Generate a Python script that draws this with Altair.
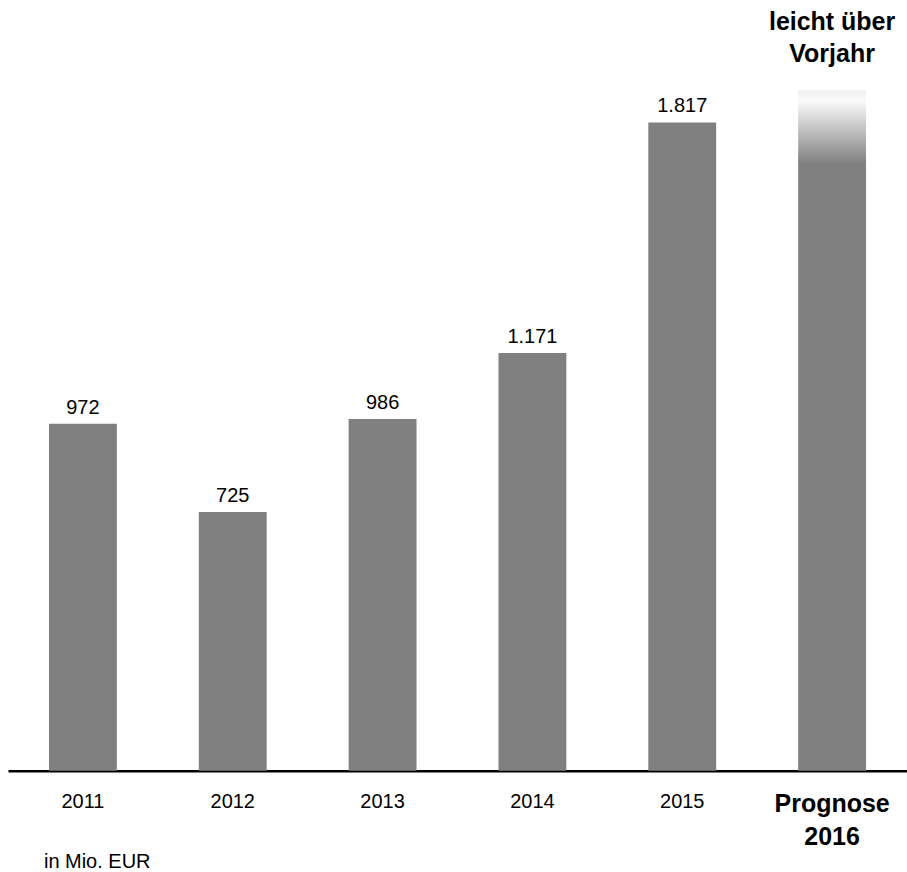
import altair as alt
import pandas as pd

years = ["2011", "2012", "2013", "2014", "2015"]
values = [972, 725, 986, 1171, 1817]
value_labels = ["972", "725", "986", "1.171", "1.817"]

forecast_cat = ["Prognose 2016"]
forecast_top = [1907]      # top of faded part
forecast_solid = [1702]    # where the solid grey begins
forecast_note = ["leicht über\nVorjahr"]
forecast_label = ["Prognose\n2016"]

categories = years + forecast_cat
unit_note = "in Mio. EUR"

hist = pd.DataFrame({"cat": years, "value": values, "label": value_labels})
fc = pd.DataFrame({"cat": forecast_cat, "top": forecast_top, "solid": forecast_solid,
                   "note": forecast_note, "label": forecast_label, "zero": [0]})
cats_df = pd.DataFrame({"cat": years, "zero": [0] * len(years)})
note_df = pd.DataFrame({"txt": [unit_note]})

FONT = "Liberation Sans"
GREY = "#808080"

x = alt.X("cat:N", sort=categories,
          scale=alt.Scale(domain=categories, paddingInner=0.547, paddingOuter=0.2735),
          axis=alt.Axis(title=None, labels=False, ticks=False, domain=True,
                        domainColor="black", domainWidth=2.5, grid=False))
yscale = alt.Scale(domain=[0, 2100], nice=False, zero=True)

bars = alt.Chart(hist).mark_bar(color=GREY).encode(
    x=x,
    y=alt.Y("value:Q", scale=yscale, axis=None),
)

value_text = alt.Chart(hist).mark_text(font=FONT, fontSize=20, baseline="alphabetic",
                                       dy=-10, color="black").encode(
    x=alt.X("cat:N", sort=categories), y=alt.Y("value:Q"), text="label:N")

grad = alt.Gradient(
    gradient="linear",
    stops=[alt.GradientStop(color="#f0f0f0", offset=0),
           alt.GradientStop(color="#fbfbfb", offset=0.015),
           alt.GradientStop(color=GREY, offset=(forecast_top[0] - forecast_solid[0]) / forecast_top[0]),
           alt.GradientStop(color=GREY, offset=1)],
    x1=0, x2=0, y1=0, y2=1,
)
fbar = alt.Chart(fc).mark_bar(color=grad).encode(
    x=alt.X("cat:N", sort=categories), y=alt.Y("top:Q"))

fnote = alt.Chart(fc).mark_text(font=FONT, fontSize=25, fontWeight="bold", baseline="alphabetic",
                                dy=-60, lineBreak="\n", lineHeight=32, color="black").encode(
    x=alt.X("cat:N", sort=categories), y=alt.Y("top:Q"), text="note:N")

cat_text = alt.Chart(cats_df).mark_text(font=FONT, fontSize=20, baseline="alphabetic",
                                        dy=37, color="black").encode(
    x=alt.X("cat:N", sort=categories), y=alt.Y("zero:Q"), text="cat:N")

fc_text = alt.Chart(fc).mark_text(font=FONT, fontSize=25, fontWeight="bold", baseline="alphabetic",
                                  dy=41, lineBreak="\n", lineHeight=33, color="black").encode(
    x=alt.X("cat:N", sort=categories), y=alt.Y("zero:Q"), text="label:N")

unit_text = alt.Chart(note_df).mark_text(font=FONT, fontSize=20, baseline="alphabetic",
                                         align="left", color="black").encode(
    x=alt.value(36), y=alt.value(847), text="txt:N")

chart = alt.layer(bars, value_text, fbar, fnote, cat_text, fc_text, unit_text).properties(
    width=900, height=750,
    padding={"left": 8, "top": 21, "right": 0, "bottom": 101},
    autosize=alt.AutoSizeParams(type="none"),
    background="white",
).configure_view(stroke=None)

chart.save("out.html", embed_options={"renderer": "svg", "actions": False})
